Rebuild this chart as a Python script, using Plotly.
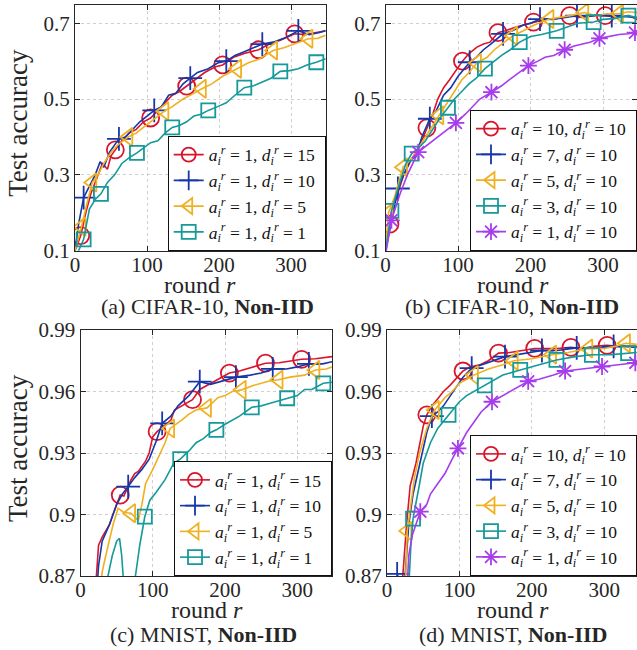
import plotly.graph_objects as go

W, H = 637, 650
FONT = "Liberation Serif, Times New Roman, serif"
INK = "#262626"

# ---------------- (a) CIFAR-10, Non-IID, a=1, varying d ----------------
A_D15_R = [0, 8, 15, 22, 30, 38, 45, 50, 56, 65, 75, 85, 95, 105, 115, 125, 135, 145, 155, 165, 180, 195, 205, 220, 235, 255, 270, 285, 305, 320, 335, 348]
A_D15_Y = [0.10, 0.14, 0.20, 0.25, 0.29, 0.33, 0.315, 0.35, 0.366, 0.39, 0.41, 0.42, 0.44, 0.45, 0.47, 0.49, 0.51, 0.52, 0.534, 0.55, 0.57, 0.585, 0.59, 0.61, 0.62, 0.63, 0.645, 0.655, 0.672, 0.67, 0.675, 0.68]
A_D15_M = [8, 56, 105, 155, 205, 255, 305]

A_D10_R = [0, 5, 12, 20, 28, 35, 40, 48, 55, 61, 70, 80, 90, 100, 110, 120, 130, 140, 150, 160, 170, 185, 198, 210, 222, 235, 248, 260, 275, 290, 310, 325, 338, 348]
A_D10_Y = [0.10, 0.17, 0.24, 0.27, 0.30, 0.335, 0.32, 0.36, 0.38, 0.395, 0.40, 0.42, 0.44, 0.455, 0.47, 0.48, 0.51, 0.515, 0.54, 0.555, 0.57, 0.58, 0.595, 0.60, 0.615, 0.625, 0.635, 0.645, 0.65, 0.66, 0.68, 0.67, 0.675, 0.68]
A_D10_M = [12, 61, 110, 160, 210, 260, 310]

A_D5_R = [0, 9, 16, 24, 32, 40, 50, 60, 74, 85, 95, 105, 114, 124, 135, 150, 165, 176, 190, 205, 225, 240, 255, 275, 290, 305, 324, 337, 348]
A_D5_Y = [0.10, 0.163, 0.22, 0.28, 0.30, 0.33, 0.36, 0.38, 0.40, 0.41, 0.425, 0.44, 0.455, 0.468, 0.48, 0.50, 0.515, 0.527, 0.54, 0.56, 0.58, 0.595, 0.605, 0.628, 0.635, 0.645, 0.659, 0.66, 0.668]
A_D5_M = [9, 24, 74, 124, 176, 225, 275, 324]

A_D1_R = [0, 5, 12, 20, 28, 36, 45, 55, 65, 75, 86, 95, 105, 115, 125, 135, 145, 155, 165, 175, 185, 198, 210, 222, 235, 248, 260, 272, 285, 298, 310, 322, 335, 348]
A_D1_Y = [0.085, 0.10, 0.13, 0.21, 0.235, 0.25, 0.28, 0.30, 0.33, 0.345, 0.358, 0.37, 0.385, 0.39, 0.41, 0.425, 0.43, 0.44, 0.455, 0.46, 0.47, 0.48, 0.49, 0.51, 0.53, 0.535, 0.545, 0.555, 0.573, 0.575, 0.58, 0.59, 0.597, 0.606]
A_D1_M = [12, 36, 86, 135, 185, 235, 285, 335]

# ---------------- (b) CIFAR-10, Non-IID, d=10, varying a ----------------
B_A10_R = [0, 6, 15, 25, 35, 42, 50, 57, 65, 72, 80, 88, 95, 106, 115, 126, 135, 144, 155, 165, 180, 190, 204, 220, 235, 254, 270, 285, 303, 320, 335, 347]
B_A10_Y = [0.10, 0.17, 0.24, 0.30, 0.34, 0.36, 0.39, 0.424, 0.46, 0.50, 0.53, 0.55, 0.57, 0.60, 0.62, 0.637, 0.645, 0.65, 0.675, 0.68, 0.69, 0.695, 0.703, 0.71, 0.712, 0.72, 0.715, 0.72, 0.72, 0.715, 0.72, 0.71]
B_A10_M = [6, 57, 106, 155, 204, 254, 303]

B_A7_R = [0, 8, 17, 25, 35, 42, 50, 61, 70, 80, 90, 100, 108, 116, 125, 135, 145, 162, 175, 190, 200, 213, 230, 245, 264, 280, 295, 312, 330, 347]
B_A7_Y = [0.10, 0.18, 0.264, 0.30, 0.34, 0.35, 0.40, 0.448, 0.47, 0.51, 0.53, 0.56, 0.58, 0.597, 0.61, 0.63, 0.645, 0.672, 0.68, 0.695, 0.70, 0.711, 0.71, 0.715, 0.72, 0.718, 0.722, 0.72, 0.718, 0.715]
B_A7_M = [17, 61, 116, 162, 213, 264, 312]

B_A5_R = [0, 4, 12, 24, 35, 45, 55, 65, 74, 85, 95, 105, 115, 126, 140, 150, 160, 176, 190, 205, 226, 240, 255, 274, 290, 305, 322, 335, 347]
B_A5_Y = [0.10, 0.20, 0.24, 0.32, 0.34, 0.37, 0.40, 0.43, 0.457, 0.49, 0.52, 0.55, 0.57, 0.595, 0.61, 0.63, 0.645, 0.667, 0.68, 0.695, 0.711, 0.715, 0.72, 0.728, 0.72, 0.725, 0.725, 0.73, 0.728]
B_A5_M = [4, 24, 74, 126, 176, 226, 274, 322]

B_A3_R = [0, 8, 18, 28, 36, 45, 55, 65, 75, 86, 95, 105, 115, 125, 137, 150, 160, 172, 185, 200, 215, 236, 250, 265, 287, 300, 315, 335, 347]
B_A3_Y = [0.10, 0.205, 0.27, 0.33, 0.356, 0.37, 0.39, 0.42, 0.45, 0.477, 0.50, 0.52, 0.54, 0.555, 0.58, 0.60, 0.615, 0.63, 0.65, 0.665, 0.67, 0.68, 0.69, 0.70, 0.703, 0.71, 0.712, 0.72, 0.715]
B_A3_M = [8, 36, 86, 137, 185, 236, 287, 335]

B_A1_R = [0, 8, 20, 30, 45, 55, 65, 75, 85, 97, 110, 120, 130, 146, 160, 170, 180, 197, 210, 220, 232, 247, 260, 272, 282, 295, 310, 322, 335, 344, 347]
B_A1_Y = [0.09, 0.18, 0.25, 0.30, 0.36, 0.375, 0.39, 0.405, 0.42, 0.437, 0.46, 0.48, 0.50, 0.518, 0.535, 0.55, 0.565, 0.588, 0.60, 0.61, 0.615, 0.63, 0.64, 0.645, 0.65, 0.66, 0.665, 0.67, 0.672, 0.675, 0.677]
B_A1_M = [8, 45, 97, 146, 197, 247, 295, 344]

# ---------------- (c) MNIST, Non-IID, a=1, varying d ----------------
C_D15_R = [15, 22, 25, 30, 35, 40, 45, 55, 60, 65, 70, 75, 80, 90, 95, 100, 106, 115, 125, 130, 140, 155, 165, 175, 190, 206, 220, 240, 256, 275, 290, 306, 325, 348]
C_D15_Y = [0.85, 0.87, 0.885, 0.889, 0.892, 0.895, 0.90, 0.9095, 0.909, 0.913, 0.917, 0.92, 0.921, 0.926, 0.93, 0.938, 0.9404, 0.943, 0.946, 0.951, 0.953, 0.956, 0.961, 0.963, 0.966, 0.969, 0.97, 0.972, 0.9738, 0.974, 0.975, 0.9757, 0.976, 0.977]
C_D15_M = [55, 106, 155, 206, 256, 306]

C_D10_R = [20, 25, 30, 40, 50, 58, 66, 75, 85, 95, 105, 113, 125, 135, 150, 165, 180, 195, 215, 235, 250, 266, 285, 300, 316, 335, 348]
C_D10_Y = [0.85, 0.875, 0.887, 0.895, 0.905, 0.91, 0.9136, 0.918, 0.922, 0.927, 0.936, 0.9445, 0.948, 0.953, 0.958, 0.9648, 0.9635, 0.965, 0.967, 0.968, 0.969, 0.971, 0.971, 0.972, 0.9735, 0.9735, 0.9745]
C_D10_M = [66, 113, 165, 215, 266, 316]

C_D5_R = [25, 30, 35, 45, 52, 60, 70, 80, 85, 90, 100, 110, 117, 124, 140, 150, 160, 175, 190, 200, 210, 223, 240, 260, 274, 290, 310, 325, 340, 348]
C_D5_Y = [0.85, 0.872, 0.88, 0.895, 0.903, 0.901, 0.9006, 0.897, 0.905, 0.915, 0.922, 0.93, 0.935, 0.942, 0.946, 0.949, 0.951, 0.952, 0.957, 0.958, 0.96, 0.9608, 0.963, 0.965, 0.9657, 0.967, 0.968, 0.9705, 0.971, 0.972]
C_D5_M = [70, 124, 175, 223, 274, 325]

C_D1_R = [36, 38, 44, 50, 54, 57, 59, 62, 72, 76, 82, 89, 96, 105, 117, 129, 138, 150, 160, 170, 180, 188, 200, 210, 220, 237, 250, 260, 270, 286, 300, 310, 320, 336, 348]
C_D1_Y = [0.85, 0.87, 0.88, 0.887, 0.8884, 0.88, 0.87, 0.85, 0.85, 0.87, 0.885, 0.899, 0.907, 0.911, 0.917, 0.925, 0.927, 0.931, 0.935, 0.937, 0.94, 0.9413, 0.944, 0.946, 0.948, 0.9523, 0.953, 0.954, 0.955, 0.9567, 0.958, 0.961, 0.961, 0.964, 0.9645]
C_D1_M = [89, 138, 188, 237, 286, 336]

# ---------------- (d) MNIST, Non-IID, d=10, varying a ----------------
D_A10_R = [15, 22, 27, 32, 40, 46, 50, 55, 62, 69, 78, 87, 95, 105, 115, 128, 140, 154, 170, 185, 204, 220, 235, 254, 270, 285, 304, 320, 345]
D_A10_Y = [0.85, 0.871, 0.895, 0.914, 0.925, 0.935, 0.943, 0.9486, 0.953, 0.956, 0.96, 0.963, 0.966, 0.97, 0.972, 0.973, 0.975, 0.9787, 0.979, 0.98, 0.981, 0.981, 0.981, 0.9815, 0.981, 0.982, 0.9825, 0.982, 0.982]
D_A10_M = [55, 105, 154, 204, 254, 304]

D_A7_R = [14, 20, 25, 30, 36, 46, 55, 62, 70, 78, 92, 105, 117, 130, 145, 163, 180, 195, 214, 235, 262, 285, 313, 330, 345]
D_A7_Y = [0.871, 0.865, 0.87, 0.895, 0.91, 0.925, 0.94, 0.948, 0.95, 0.953, 0.96, 0.967, 0.9714, 0.973, 0.975, 0.977, 0.978, 0.979, 0.98, 0.98, 0.9813, 0.981, 0.982, 0.982, 0.9815]
D_A7_M = [14, 62, 117, 163, 214, 262, 313]

D_A5_R = [24, 28, 33, 38, 45, 55, 66, 80, 90, 100, 110, 120, 140, 160, 175, 200, 228, 250, 278, 300, 315, 330, 345]
D_A5_Y = [0.85, 0.892, 0.905, 0.918, 0.93, 0.942, 0.951, 0.957, 0.96, 0.964, 0.966, 0.968, 0.971, 0.973, 0.975, 0.976, 0.978, 0.979, 0.981, 0.981, 0.982, 0.9835, 0.983]
D_A5_M = [28, 66, 120, 175, 228, 278, 330]

D_A3_R = [28, 33, 36, 40, 45, 50, 60, 70, 85, 100, 110, 120, 135, 150, 160, 184, 200, 220, 234, 260, 283, 310, 333, 345]
D_A3_Y = [0.85, 0.885, 0.898, 0.905, 0.915, 0.925, 0.935, 0.942, 0.9486, 0.955, 0.958, 0.96, 0.963, 0.966, 0.968, 0.9705, 0.972, 0.974, 0.9754, 0.977, 0.9779, 0.978, 0.9787, 0.979]
D_A3_M = [36, 85, 135, 184, 234, 283, 333]

D_A1_R = [26, 30, 35, 46, 55, 60, 70, 80, 90, 98, 110, 120, 130, 145, 160, 170, 180, 195, 210, 230, 246, 270, 297, 320, 343]
D_A1_Y = [0.85, 0.88, 0.89, 0.9014, 0.905, 0.91, 0.915, 0.92, 0.927, 0.9323, 0.94, 0.945, 0.95, 0.955, 0.958, 0.96, 0.962, 0.965, 0.966, 0.968, 0.97, 0.971, 0.9722, 0.973, 0.974]
D_A1_M = [46, 98, 145, 195, 246, 297, 343]

X_TICKS = [0, 100, 200, 300]
Y_TICKS_CIFAR = [0.1, 0.3, 0.5, 0.7]
Y_TICKS_MNIST = [0.87, 0.9, 0.93, 0.96, 0.99]

LBL_D = ["15", "10", "5", "1"]
LBL_A = ["10", "7", "5", "3", "1"]

CAPTIONS = ["(a) CIFAR-10, <b>Non-IID</b>", "(b) CIFAR-10, <b>Non-IID</b>",
            "(c) MNIST, <b>Non-IID</b>", "(d) MNIST, <b>Non-IID</b>"]

# ---------------- styles ----------------
RED, BLUE, YEL, TEAL, PUR = "#D9142B", "#1537A8", "#EFB021", "#15999A", "#A63CEB"
STY = {
    "red": (RED, "circle-open", 17),
    "blue": (BLUE, "cross-thin-open", 17),
    "yel": (YEL, "triangle-left-open", 16),
    "teal": (TEAL, "square-open", 14),
    "pur": (PUR, "asterisk-open", 14),
}
PAD = "&nbsp;"


def lab(a, d):
    return ("<i>a</i><sub><i>i</i></sub><sup><i>r</i></sup> = " + a +
            ", <i>d</i><sub><i>i</i></sub><sup><i>r</i></sup> = " + d + PAD)


def fx(p):
    return p / W


def fy(p):
    return 1 - p / H


PANELS = [
    dict(dom=(75, 325.7, 5, 250.7), xr=[0, 348], yr=[0.1, 0.748], yt=Y_TICKS_CIFAR,
         series=[("red", A_D15_R, A_D15_Y, A_D15_M, lab("1", LBL_D[0])),
                 ("blue", A_D10_R, A_D10_Y, A_D10_M, lab("1", LBL_D[1])),
                 ("yel", A_D5_R, A_D5_Y, A_D5_M, lab("1", LBL_D[2])),
                 ("teal", A_D1_R, A_D1_Y, A_D1_M, lab("1", LBL_D[3]))],
         ylab=True, cap=(208, 306), xt=(200, 285)),
    dict(dom=(385.6, 637, 5, 250.7), xr=[0, 346.8], yr=[0.1, 0.748], yt=Y_TICKS_CIFAR,
         series=[("red", B_A10_R, B_A10_Y, B_A10_M, lab(LBL_A[0], "10")),
                 ("blue", B_A7_R, B_A7_Y, B_A7_M, lab(LBL_A[1], "10")),
                 ("yel", B_A5_R, B_A5_Y, B_A5_M, lab(LBL_A[2], "10")),
                 ("teal", B_A3_R, B_A3_Y, B_A3_M, lab(LBL_A[3], "10")),
                 ("pur", B_A1_R, B_A1_Y, B_A1_M, lab(LBL_A[4], "10"))],
         ylab=False, cap=(512, 306), xt=(513, 285)),
    dict(dom=(80.5, 332, 330, 576), xr=[0, 348], yr=[0.87, 0.99], yt=Y_TICKS_MNIST,
         series=[("red", C_D15_R, C_D15_Y, C_D15_M, lab("1", LBL_D[0])),
                 ("blue", C_D10_R, C_D10_Y, C_D10_M, lab("1", LBL_D[1])),
                 ("yel", C_D5_R, C_D5_Y, C_D5_M, lab("1", LBL_D[2])),
                 ("teal", C_D1_R, C_D1_Y, C_D1_M, lab("1", LBL_D[3]))],
         ylab=True, cap=(203, 634), xt=(207, 610)),
    dict(dom=(387, 637, 330, 576), xr=[0, 345.3], yr=[0.87, 0.99], yt=Y_TICKS_MNIST,
         series=[("red", D_A10_R, D_A10_Y, D_A10_M, lab(LBL_A[0], "10")),
                 ("blue", D_A7_R, D_A7_Y, D_A7_M, lab(LBL_A[1], "10")),
                 ("yel", D_A5_R, D_A5_Y, D_A5_M, lab(LBL_A[2], "10")),
                 ("teal", D_A3_R, D_A3_Y, D_A3_M, lab(LBL_A[3], "10")),
                 ("pur", D_A1_R, D_A1_Y, D_A1_M, lab(LBL_A[4], "10"))],
         ylab=False, cap=(513, 634), xt=(513, 610)),
]

fig = go.Figure()
layout = dict(width=W, height=H, margin=dict(l=0, r=0, t=0, b=0, pad=0, autoexpand=False),
              paper_bgcolor="white", plot_bgcolor="white",
              font=dict(family=FONT, size=20, color=INK), annotations=[])


def note(text, x, y, size, angle=0):
    return dict(text=text, x=fx(x), y=fy(y), xref="paper", yref="paper",
                xanchor="center", yanchor="middle", showarrow=False, textangle=angle,
                font=dict(family=FONT, size=size, color=INK))


for i, p in enumerate(PANELS):
    k = "" if i == 0 else str(i + 1)
    xa, ya, lg = "x" + k, "y" + k, "legend" + k
    x0, x1, y0, y1 = p["dom"]
    common = dict(showline=True, mirror="ticks", linecolor=INK, linewidth=1,
                  ticks="inside", ticklen=5, tickcolor=INK, showgrid=True,
                  gridcolor="#cfcfcf", griddash="dot", gridwidth=1, zeroline=False,
                  automargin=False, tickfont=dict(family=FONT, size=21, color=INK))
    layout["xaxis" + k] = dict(common, domain=[fx(x0), fx(x1)], range=p["xr"],
                               tickvals=X_TICKS, anchor=ya, ticklabelstandoff=-5)
    layout["yaxis" + k] = dict(common, domain=[fy(y1), fy(y0)], range=p["yr"],
                               tickvals=p["yt"], ticktext=[f"{v:g}" for v in p["yt"]],
                               anchor=xa, ticklabelstandoff=0)
    layout[lg] = dict(x=fx(x1), y=fy(y1), xanchor="right", yanchor="bottom",
                      bgcolor="white", bordercolor="#111", borderwidth=1,
                      font=dict(family=FONT, size=17.5, color="#111"),
                      itemwidth=30, tracegroupgap=0)
    for key, rr, yy, mm, name in p["series"]:
        col, sym, sz = STY[key]
        fig.add_trace(go.Scatter(x=rr, y=yy, mode="lines", line=dict(color=col, width=1.6),
                                 xaxis=xa, yaxis=ya, showlegend=False, hoverinfo="skip"))
        my = [yy[rr.index(m)] for m in mm]
        fig.add_trace(go.Scatter(x=mm, y=my, mode="markers",
                                 marker=dict(symbol=sym, size=sz, color=col,
                                             line=dict(color=col, width=1.8)),
                                 xaxis=xa, yaxis=ya, showlegend=False, cliponaxis=True))
        fig.add_trace(go.Scatter(x=[None], y=[None], mode="lines+markers", name=name,
                                 line=dict(color=col, width=1.6),
                                 marker=dict(symbol=sym, size=min(sz, 14), color=col,
                                             line=dict(color=col, width=1.8)),
                                 xaxis=xa, yaxis=ya, legend=lg, showlegend=True))
    layout["annotations"].append(note("round <i>r</i>", p["xt"][0], p["xt"][1], 24))
    layout["annotations"].append(note(CAPTIONS[i], p["cap"][0], p["cap"][1], 22))
    if p["ylab"]:
        layout["annotations"].append(note("Test accuracy", 18, (y0 + y1) / 2 - 5, 27, -90))

fig.update_layout(**layout)
fig.write_html("out.html", config={"displayModeBar": False},
               post_script="document.body.style.margin='0';document.body.style.overflow='hidden';")
